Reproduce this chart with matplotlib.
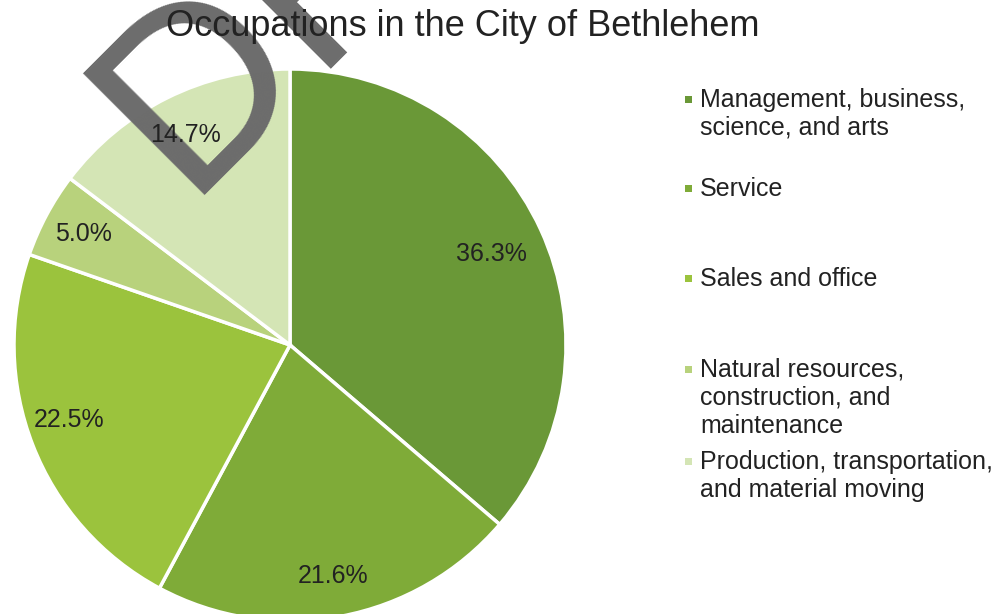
import matplotlib.pyplot as plt

# occupation shares, clockwise from 12 o'clock
labels = ['Management, business,\nscience, and arts',
          'Service',
          'Sales and office',
          'Natural resources,\nconstruction, and\nmaintenance',
          'Production, transportation,\nand material moving']
shares = [36.3, 21.6, 22.5, 5.0, 14.7]
colors = ['#6a9837', '#7fab38', '#9bc33d', '#b8d27c', '#d4e5b5']

plt.rcParams['font.family'] = ['Liberation Sans', 'DejaVu Sans']

W, H = 1001, 614
fig = plt.figure(figsize=(W / 100, H / 100), dpi=100)

# pie centred at (290, 345) px, radius ~276 px
cx, cy, r = 290, 345, 276
ax = fig.add_axes([(cx - r) / W, (H - cy - r) / H, 2 * r / W, 2 * r / H])
wedges, texts, autotexts = ax.pie(
    shares, colors=colors, startangle=90, counterclock=False, radius=1,
    autopct='%.1f%%', pctdistance=0.85,
    wedgeprops=dict(edgecolor='white', linewidth=2.5),
    textprops=dict(fontsize=18, color='#222222', zorder=4))
autotexts[0].set_position((0.73, 0.33))
autotexts[2].set_position((-0.80, -0.27))
ax.set_xlim(-1, 1)
ax.set_ylim(-1, 1)
ax.set_aspect('equal')
ax.axis('off')

# scanned "DRAFT" stamp, cut off by the top edge as in the scan
ax.text(184 / W, 1 - 195 / H, 'DRAFT', transform=fig.transFigure,
        rotation=45, rotation_mode='anchor', ha='left', va='baseline',
        fontsize=179, color='#6c6c6c', clip_on=False, zorder=3)

fig.text(463 / W, 1 - 26 / H, 'Occupations in the City of Bethlehem',
         ha='center', va='center', fontsize=26, color='#222222')

# legend, placed by hand to keep the uneven spacing
legend_top = [88, 177, 267, 358, 450]
for lab, col, y in zip(labels, colors, legend_top):
    fig.text(700 / W, 1 - y / H, lab, ha='left', va='top',
             fontsize=18, color='#222222', linespacing=1.2)
    fig.patches.append(plt.Rectangle((685 / W, 1 - (y + 15) / H), 7 / W, 7 / H,
                                     transform=fig.transFigure,
                                     facecolor=col, edgecolor='none'))

fig.savefig('out.png', dpi=100)
